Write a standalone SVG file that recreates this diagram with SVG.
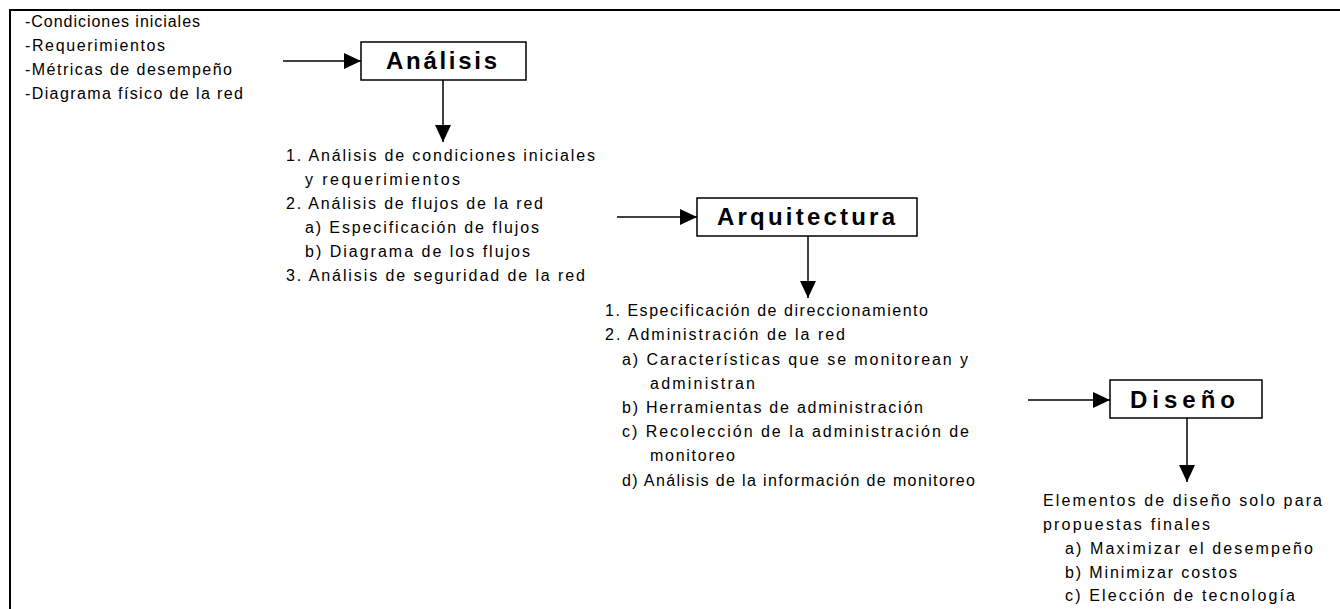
<svg xmlns="http://www.w3.org/2000/svg" width="1340" height="609" viewBox="0 0 1340 609">
<style>
  .t { font-family: "Liberation Sans", Arial, sans-serif; font-size: 16px; fill: #000; }
  .h { font-family: "Liberation Sans", Arial, sans-serif; font-size: 24px; font-weight: bold; fill: #000; }
  .box { fill: #fff; stroke: #000; stroke-width: 1.5; }
  .c { stroke: #000; stroke-width: 1.5; fill: none; }
</style>
<defs>
  <marker id="ah" markerUnits="userSpaceOnUse" markerWidth="18" markerHeight="18" viewBox="0 0 18 18" refX="17" refY="9" orient="auto">
    <polygon points="0,1 17,9 0,17" fill="#000"/>
  </marker>
</defs>
<rect width="1340" height="609" fill="#fff"/>
<g id="frame">
  <line x1="9" y1="10" x2="1340" y2="10" stroke="#000" stroke-width="2"/>
  <line x1="10" y1="9" x2="10" y2="609" stroke="#000" stroke-width="2"/>
</g>
<g id="connectors">
  <line class="c" x1="283" y1="61" x2="361" y2="61" marker-end="url(#ah)"/>
  <line class="c" x1="443" y1="80" x2="443" y2="142" marker-end="url(#ah)"/>
  <line class="c" x1="617" y1="217" x2="697" y2="217" marker-end="url(#ah)"/>
  <line class="c" x1="808" y1="236" x2="808" y2="298" marker-end="url(#ah)"/>
  <line class="c" x1="1028" y1="400" x2="1110" y2="400" marker-end="url(#ah)"/>
  <line class="c" x1="1187" y1="418" x2="1187" y2="482" marker-end="url(#ah)"/>
</g>
<g id="inputs">
  <text class="t" x="25" y="27" textLength="175" lengthAdjust="spacing">-Condiciones iniciales</text>
  <text class="t" x="25" y="51" textLength="140" lengthAdjust="spacing">-Requerimientos</text>
  <text class="t" x="25" y="75" textLength="207" lengthAdjust="spacing">-Métricas de desempeño</text>
  <text class="t" x="25" y="99" textLength="218" lengthAdjust="spacing">-Diagrama físico de la red</text>
</g>
<g id="analisis">
  <rect class="box" x="361" y="42" width="165" height="38"/>
  <text class="h" x="386" y="69" textLength="111" lengthAdjust="spacing">Análisis</text>
</g>
<g id="analisis-list">
  <text class="t" x="286" y="161" textLength="309" lengthAdjust="spacing">1. Análisis de condiciones iniciales</text>
  <text class="t" x="305" y="185" textLength="155" lengthAdjust="spacing">y requerimientos</text>
  <text class="t" x="286" y="209" textLength="257" lengthAdjust="spacing">2. Análisis de flujos de la red</text>
  <text class="t" x="305" y="233" textLength="234" lengthAdjust="spacing">a) Especificación de flujos</text>
  <text class="t" x="305" y="257" textLength="225" lengthAdjust="spacing">b) Diagrama de los flujos</text>
  <text class="t" x="286" y="281" textLength="299" lengthAdjust="spacing">3. Análisis de seguridad de la red</text>
</g>
<g id="arquitectura">
  <rect class="box" x="697" y="198" width="220" height="38"/>
  <text class="h" x="717" y="225" textLength="178" lengthAdjust="spacing">Arquitectura</text>
</g>
<g id="arquitectura-list">
  <text class="t" x="605" y="316" textLength="323" lengthAdjust="spacing">1. Especificación de direccionamiento</text>
  <text class="t" x="605" y="340" textLength="240" lengthAdjust="spacing">2. Administración de la red</text>
  <text class="t" x="622" y="365" textLength="346" lengthAdjust="spacing">a) Características que se monitorean y</text>
  <text class="t" x="650" y="389" textLength="105" lengthAdjust="spacing">administran</text>
  <text class="t" x="622" y="413" textLength="301" lengthAdjust="spacing">b) Herramientas de administración</text>
  <text class="t" x="622" y="437" textLength="347" lengthAdjust="spacing">c) Recolección de la administración de</text>
  <text class="t" x="650" y="461" textLength="85" lengthAdjust="spacing">monitoreo</text>
  <text class="t" x="622" y="486" textLength="353" lengthAdjust="spacing">d) Análisis de la información de monitoreo</text>
</g>
<g id="diseno">
  <rect class="box" x="1110" y="380" width="152" height="38"/>
  <text class="h" x="1130" y="408" textLength="105" lengthAdjust="spacing">Diseño</text>
</g>
<g id="diseno-list">
  <text class="t" x="1043" y="506" textLength="279" lengthAdjust="spacing">Elementos de diseño solo para</text>
  <text class="t" x="1043" y="530" textLength="167" lengthAdjust="spacing">propuestas finales</text>
  <text class="t" x="1065" y="554" textLength="248" lengthAdjust="spacing">a) Maximizar el desempeño</text>
  <text class="t" x="1065" y="578" textLength="172" lengthAdjust="spacing">b) Minimizar costos</text>
  <text class="t" x="1065" y="601" textLength="230" lengthAdjust="spacing">c) Elección de tecnología</text>
</g>
</svg>
